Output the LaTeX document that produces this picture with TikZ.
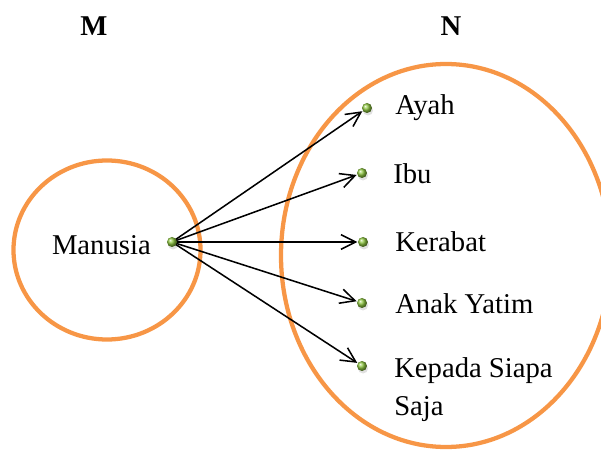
\documentclass[tikz,border=0pt]{standalone}
\usepackage{fontspec}
\setmainfont{Liberation Serif}
\usetikzlibrary{arrows.meta,backgrounds}
\definecolor{setorange}{HTML}{F79646}
\definecolor{dotgreen}{HTML}{8DC63F}
\tikzset{
  setline/.style={draw=setorange,line width=3.2pt},
  ptdot/.style={circle,inner sep=0pt,minimum size=7.5pt,shading=ball,ball color=dotgreen},
  maparrow/.style={draw=black,line width=1.15pt,-{Straight Barb[length=11pt,width=11pt,line width=1.15pt]},shorten >=0.3pt},
  lbl/.style={anchor=west,inner sep=0pt,font=\fontsize{21.5pt}{28.5pt}\selectfont},
  ttl/.style={inner sep=0pt,font=\fontsize{21.5pt}{26pt}\selectfont\bfseries}
}
\begin{document}
\begin{tikzpicture}[x=0.75pt,y=-0.75pt]
\useasboundingbox (0,0) rectangle (601,453);

% titles
\node[ttl] (tm) at (94,26) {M};
\node[ttl] (tn) at (451,26) {N};

% points
\node[ptdot] (s) at (172,242) {};
\node[ptdot] (a) at (367,108) {};
\node[ptdot] (b) at (362,173) {};
\node[ptdot] (c) at (363,242) {};
\node[ptdot] (d) at (362,303) {};
\node[ptdot] (e) at (362,366) {};

% labels
\node[lbl,anchor=east] (lm) at (151,245) {Manusia};
\node[lbl] (la) at (395,108) {Ayah};
\node[lbl] (lb) at (393,174) {Ibu};
\node[lbl] (lc) at (395,242) {Kerabat};
\node[lbl] (ld) at (395,304) {Anak Yatim};
\node[lbl,anchor=north west,align=left] (le) at (394,357) {Kepada Siapa\\Saja};

\begin{pgfonlayer}{background}
  % the two sets
  \draw[setline] (107,250) ellipse [x radius=93.5,y radius=89.5];
  \draw[setline] (446,255.5) ellipse [x radius=165,y radius=191.5];
  % soft shadows under the points
  \foreach \p in {s,a,b,c,d,e}
    \fill[black,opacity=0.12] ([shift={(1,2.5)}]\p.center) circle (5);
  % mapping
  \foreach \t in {a,b,c,d,e}
    \draw[maparrow] (s.center) -- (\t);
\end{pgfonlayer}
\end{tikzpicture}
\end{document}
